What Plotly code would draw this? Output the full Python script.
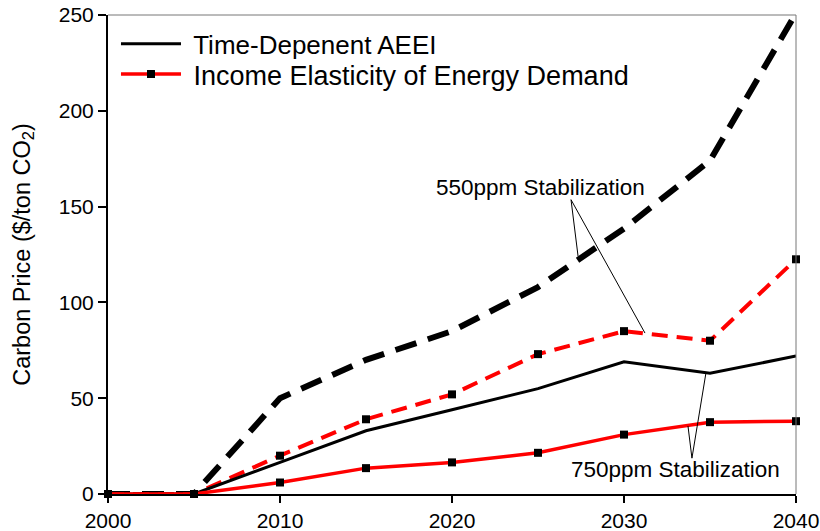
import plotly.graph_objects as go

years = [2000, 2005, 2010, 2015, 2020, 2025, 2030, 2035, 2040]

# 550ppm stabilization
aeei_550 = [0, 0, 50, 70, 85, 108, 138.5, 174, 251]
income_550 = [0, 0, 20, 39, 52, 73, 85, 80, 122.5]

# 750ppm stabilization
aeei_750 = [0, 0, 16.5, 33, 44, 55, 69, 63, 72]
income_750 = [0, 0, 6, 13.5, 16.5, 21.5, 31, 37.5, 38]

font = "Liberation Sans, Arial, sans-serif"
red = "#ff0000"

fig = go.Figure()

fig.add_trace(go.Scatter(
    x=years, y=aeei_550, mode="lines", showlegend=False,
    line=dict(color="black", width=6, dash="22px,12px"),
    cliponaxis=False,
))
fig.add_trace(go.Scatter(
    x=years, y=income_550, mode="lines+markers", showlegend=False,
    line=dict(color=red, width=4, dash="16px,9px"),
    marker=dict(symbol="square", size=8, color="black"),
    cliponaxis=False,
))
fig.add_trace(go.Scatter(
    x=years, y=aeei_750, mode="lines", name="&nbsp;Time-Depenent AEEI",
    line=dict(color="black", width=3),
    cliponaxis=False, legend="legend",
))
fig.add_trace(go.Scatter(
    x=years, y=income_750, mode="lines+markers", name="&nbsp;Income Elasticity of Energy Demand",
    line=dict(color=red, width=3.5),
    marker=dict(symbol="square", size=8, color="black"),
    cliponaxis=False, legend="legend2",
))

# pointer lines for the labels
pointers = [
    (2026.92, 153.6, 2027.33, 124),
    (2026.92, 153.6, 2031.22, 84),
    (2033.95, 18.7, 2033.72, 35.5),
    (2033.95, 18.7, 2034.77, 63.5),
]
for x0, y0, x1, y1 in pointers:
    fig.add_shape(type="line", x0=x0, y0=y0, x1=x1, y1=y1, xref="x", yref="y",
                  line=dict(color="black", width=1))

# thin grey frame on top and right
fig.add_shape(type="line", x0=0, x1=1, y0=1, y1=1, xref="paper", yref="paper",
              line=dict(color="#777777", width=1))
fig.add_shape(type="line", x0=1, x1=1, y0=0, y1=1, xref="paper", yref="paper",
              line=dict(color="#777777", width=1))

fig.add_annotation(x=2025.17, y=160, text="550ppm Stabilization", showarrow=False,
                   xref="x", yref="y", font=dict(size=22.5, color="black", family=font))
fig.add_annotation(x=2033.0, y=13, text="750ppm Stabilization", showarrow=False,
                   xref="x", yref="y", font=dict(size=22.5, color="black", family=font))

leg = dict(
    x=0.0116, xanchor="left", yanchor="top",
    itemwidth=60,
    bgcolor="rgba(0,0,0,0)",
)

fig.update_layout(
    width=820, height=531,
    plot_bgcolor="white",
    paper_bgcolor="white",
    font=dict(family=font, size=21, color="black"),
    margin=dict(l=108, r=24, t=15, b=37),
    showlegend=True,
    legend=dict(leg, y=0.989, font=dict(size=26, family=font)),
    legend2=dict(leg, y=0.927, font=dict(size=27, family=font)),
    xaxis=dict(
        range=[2000, 2040],
        tickvals=[2000, 2010, 2020, 2030, 2040],
        showgrid=False, zeroline=False,
        showline=True, linecolor="black", linewidth=2,
        ticks="outside", ticklen=7, tickcolor="black", tickwidth=1.5,
        automargin=False,
    ),
    yaxis=dict(
        range=[0, 250],
        tickvals=[0, 50, 100, 150, 200, 250],
        showgrid=False, zeroline=False,
        showline=True, linecolor="black", linewidth=2,
        ticks="outside", ticklen=8, tickcolor="black", tickwidth=1.5,
        title=dict(text="Carbon Price ($/ton CO<sub>2</sub>)", font=dict(size=23.5), standoff=22),
        automargin=False,
    ),
)

# the page body has a default margin; drop it so the figure sits at the window corner
fig.write_html("out.html", config={"displayModeBar": False},
               post_script="document.body.style.margin='0px';")
